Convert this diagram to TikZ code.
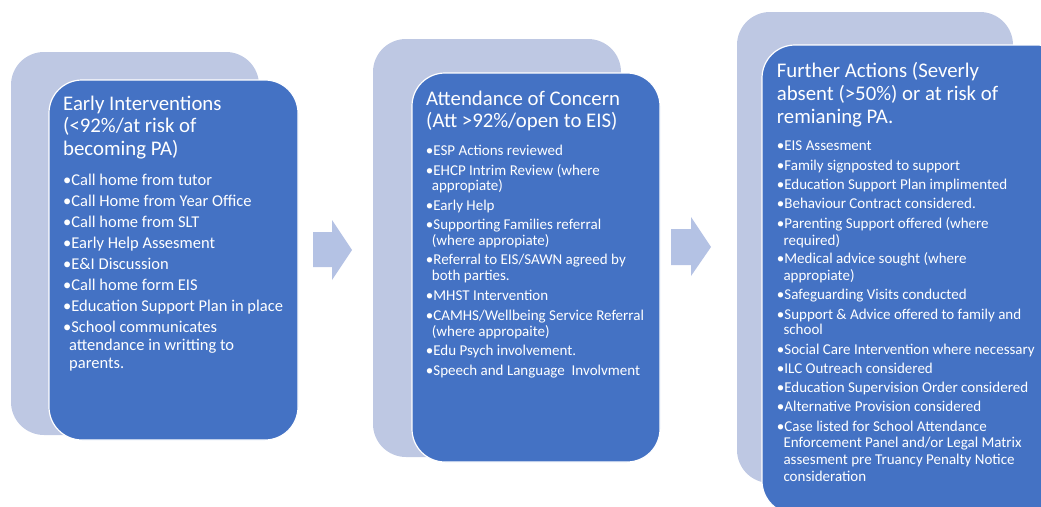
\documentclass[tikz,border=0pt]{standalone}
\usepackage{fontspec}
\setmainfont{Carlito}
\definecolor{frontblue}{RGB}{68,114,196}
\definecolor{backblue}{RGB}{190,200,227}
\definecolor{arrowblue}{RGB}{180,194,228}
\begin{document}
\begin{tikzpicture}[x=1pt,y=-1pt,
  backpanel/.style={fill=backblue,rounded corners=33pt},
  frontpanel/.style={fill=frontblue,draw=white,line width=1.2pt,rounded corners=33pt},
  blockarrow/.style={fill=arrowblue},
  ttl/.style={text=white,inner sep=0pt,anchor=base west,font=\fontsize{20.8}{24}\selectfont},
  bA/.style={text=white,inner sep=0pt,anchor=base west,font=\fontsize{16.5}{19}\selectfont},
  bB/.style={text=white,inner sep=0pt,anchor=base west,font=\fontsize{15}{18}\selectfont},
  bC/.style={text=white,inner sep=0pt,anchor=base west,font=\fontsize{15}{17}\selectfont}]
\useasboundingbox (0,0) rectangle (1041,506);
\clip (0,0) rectangle (1041,506);
% panels
\fill[backpanel] (11,52) rectangle (259,435);
\filldraw[frontpanel] (49,80) rectangle (298,440);
\fill[backpanel] (373,39) rectangle (621,457);
\filldraw[frontpanel] (412,73) rectangle (660,462);
\fill[backpanel] (737,12) rectangle (1013,483);
\filldraw[frontpanel] (762,45) rectangle (1070,514);
% arrows
\fill[blockarrow] (313,232) -- (332,232) -- (332,220) -- (352,250) -- (332,280) -- (332,267) -- (313,267) -- cycle;
\fill[blockarrow] (671,229) -- (691,229) -- (691,217) -- (711,247) -- (691,276) -- (691,265) -- (671,265) -- cycle;
% panel 1
\node[ttl] (t1a) at (63,110) {Early Interventions};
\node[ttl] (t1b) at (63,132.5) {(<92\%/at risk of};
\node[ttl] (t1c) at (63,155) {becoming PA)};
\node[bA] (a1) at (63,185.7) {•Call home from tutor};
\node[bA] (a2) at (63,206.7) {•Call Home from Year Office};
\node[bA] (a3) at (63,227.5) {•Call home from SLT};
\node[bA] (a4) at (63,248.5) {•Early Help Assesment};
\node[bA] (a5) at (63,269.5) {•E\&I Discussion};
\node[bA] (a6) at (63,290.7) {•Call home form EIS};
\node[bA] (a7) at (63,311.7) {•Education Support Plan in place};
\node[bA] (a8) at (63,332.7) {•School communicates};
\node[bA] (a8b) at (69,350.5) {attendance in writting to};
\node[bA] (a8c) at (69,368.3) {parents.};
% panel 2
\node[ttl] (t2a) at (426,105) {Attendance of Concern};
\node[ttl] (t2b) at (426,127.3) {(Att >92\%/open to EIS)};
\node[bB] (b1) at (425.7,155) {•ESP Actions reviewed};
\node[bB] (b2) at (425.7,175) {•EHCP Intrim Review (where};
\node[bB] (b2b) at (431.7,190.5) {appropiate)};
\node[bB] (b3) at (425.7,210) {•Early Help};
\node[bB] (b4) at (425.7,229.3) {•Supporting Families referral};
\node[bB] (b4b) at (431.7,245) {(where appropiate)};
\node[bB] (b5) at (425.7,264.3) {•Referral to EIS/SAWN agreed by};
\node[bB] (b5b) at (431.7,280.7) {both parties.};
\node[bB] (b6) at (425.7,300.5) {•MHST Intervention};
\node[bB] (b7) at (425.7,320) {•CAMHS/Wellbeing Service Referral};
\node[bB] (b7b) at (431.7,336) {(where appropaite)};
\node[bB] (b8) at (425.7,355.7) {•Edu Psych involvement.};
\node[bB] (b9) at (425.7,375) {•Speech and Language\ \ Involvment};
% panel 3
\node[ttl] (t3a) at (776.7,77.3) {Further Actions (Severly};
\node[ttl] (t3b) at (776.7,100) {absent (>50\%) or at risk of};
\node[ttl] (t3c) at (776.7,123.3) {remianing PA.};
\node[bC] (c1) at (776.7,150.7) {•EIS Assesment};
\node[bC] (c2) at (776.7,170) {•Family signposted to support};
\node[bC] (c3) at (776.7,189) {•Education Support Plan implimented};
\node[bC] (c4) at (776.7,208.3) {•Behaviour Contract considered.};
\node[bC] (c5) at (776.7,228.3) {•Parenting Support offered (where};
\node[bC] (c5b) at (783.3,245) {required)};
\node[bC] (c6) at (776.7,263.3) {•Medical advice sought (where};
\node[bC] (c6b) at (783.3,280) {appropiate)};
\node[bC] (c7) at (776.7,299.3) {•Safeguarding Visits conducted};
\node[bC] (c8) at (776.7,319) {•Support \& Advice offered to family and};
\node[bC] (c8b) at (783.3,334.3) {school};
\node[bC] (c9) at (776.7,354) {•Social Care Intervention where necessary};
\node[bC] (c10) at (776.7,373.3) {•ILC Outreach considered};
\node[bC] (c11) at (776.7,392.7) {•Education Supervision Order considered};
\node[bC] (c12) at (776.7,411.7) {•Alternative Provision considered};
\node[bC] (c13) at (776.7,431) {•Case listed for School Attendance};
\node[bC] (c13b) at (783.3,447.7) {Enforcement Panel and/or Legal Matrix};
\node[bC] (c13c) at (783.3,464.3) {assesment pre Truancy Penalty Notice};
\node[bC] (c13d) at (783.3,481) {consideration};
\end{tikzpicture}
\end{document}
